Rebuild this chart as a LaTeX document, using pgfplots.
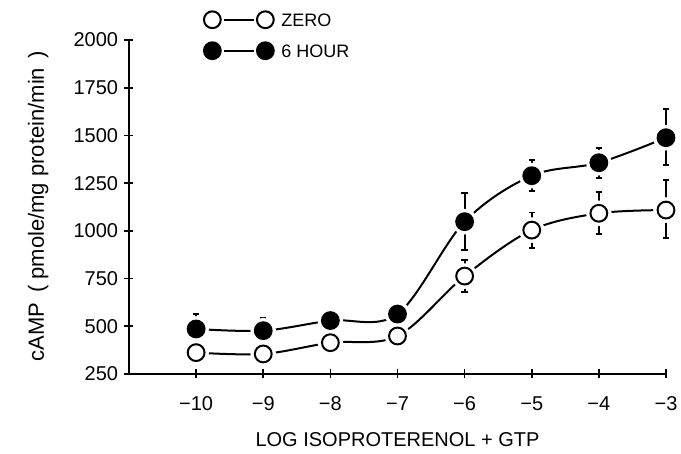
\documentclass[border=0pt]{standalone}
\usepackage{fontspec}
\setmainfont{Liberation Sans}
\usepackage{pgfplots}
\pgfplotsset{compat=1.18}
\usepackage{pgfplotstable}

\pgfplotstableread{
x y ep em
-10 362 62 30
-9 355 62 30
-8 414 30 30
-7 449 30 30
-6 763 85 85
-5 1004 92 92
-4 1092 110 110
-3 1109 157 148
}\zero

\pgfplotstableread{
x y ep em
-10 486 78 30
-9 477 68 30
-8 530 30 30
-7 564 30 30
-6 1048 150 148
-5 1289 82 80
-4 1357 78 80
-3 1488 149 143
}\six

\begin{document}
\begin{tikzpicture}
\useasboundingbox (-64.5pt,-40pt) rectangle (276pt,187pt);
\begin{axis}[
  at={(0,0)}, anchor=south west,
  scale only axis, width=268.5pt, height=167pt,
  xmin=-11, xmax=-3, ymin=250, ymax=2000,
  axis x line*=bottom, axis y line*=left,
  axis line style={line width=1pt},
  xtick={-10,-9,-8,-7,-6,-5,-4,-3},
  xticklabels={−10,−9,−8,−7,−6,−5,−4,−3},
  ytick={250,500,750,1000,1250,1500,1750,2000},
  tick align=center, major tick length=4.5pt,
  tick style={line width=0.8pt, black},
  /pgf/number format/assume math mode=true,
  /pgf/number format/1000 sep={},
  ticklabel style={font=\fontsize{10}{12}\selectfont},
  xticklabel style={inner sep=0pt, anchor=north, yshift=-9pt},
  yticklabel style={inner sep=0pt, anchor=east, xshift=-3pt},
  xlabel={LOG ISOPROTERENOL + GTP},
  xlabel style={at={(axis description cs:0.5,0)}, anchor=center, yshift=-33pt, font=\fontsize{10}{12}\selectfont},
  ylabel={cAMP \,( pmole/mg protein/min \,)},
  ylabel style={at={(axis description cs:-0.169,0.503)}, anchor=center, font=\fontsize{11}{13}\selectfont},
  legend style={at={(axis description cs:0.137,1.09)}, anchor=north west, draw=none, fill=none, inner sep=0pt, row sep=5.7pt, column sep=3.25pt, nodes={inner sep=0pt}, font=\fontsize{9}{11}\selectfont},
  legend cell align=left,
  clip=false,
]
\addlegendimage{legend image code/.code={
  \draw[line width=1pt] (5.9pt,1.2pt) -- (20.6pt,1.2pt);
  \draw[line width=1pt, fill=white] (0,1.2pt) circle (4.2pt);
  \draw[line width=1pt, fill=white] (26.5pt,1.2pt) circle (4.2pt);}}
\addlegendentry{ZERO}
\addlegendimage{legend image code/.code={
  \draw[line width=1pt] (5.9pt,1.2pt) -- (20.6pt,1.2pt);
  \draw[line width=1pt, fill=black] (0,1.2pt) circle (4.2pt);
  \draw[line width=1pt, fill=black] (26.5pt,1.2pt) circle (4.2pt);}}
\addlegendentry{6 HOUR}

% curves
\addplot[forget plot, black, line width=1pt, smooth, tension=0.55, mark=none] table[x=x,y=y] {\zero};
\addplot[forget plot, black, line width=1pt, smooth, tension=0.55, mark=none] table[x=x,y=y] {\six};
% 6 HOUR error bars and halo
\addplot[forget plot, draw=none, mark=none,
  error bars/.cd, y dir=both, y explicit,
  error bar style={draw=black, line width=0.9pt},
  error mark options={draw=black, rotate=90, mark size=1.6pt, line width=0.9pt}]
  table[x=x,y=y,y error plus=ep,y error minus=em] {\six};
\addplot[forget plot, only marks, mark=*, mark size=6pt, mark options={draw=white, fill=white, line width=0.8pt}] table[x=x,y=y] {\six};
% ZERO error bars and halo
\addplot[forget plot, draw=none, mark=none,
  error bars/.cd, y dir=both, y explicit,
  error bar style={draw=black, line width=0.9pt},
  error mark options={draw=black, rotate=90, mark size=1.6pt, line width=0.9pt}]
  table[x=x,y=y,y error plus=ep,y error minus=em] {\zero};
\addplot[forget plot, only marks, mark=*, mark size=6pt, mark options={draw=white, fill=white, line width=0.8pt}] table[x=x,y=y] {\zero};
% marks
\addplot[forget plot, only marks, mark=*, mark size=4.2pt, mark options={draw=black, fill=white, line width=1pt}] table[x=x,y=y] {\zero};
\addplot[forget plot, only marks, mark=*, mark size=4.2pt, mark options={draw=black, fill=black, line width=1pt}] table[x=x,y=y] {\six};
\end{axis}
\end{tikzpicture}
\end{document}
